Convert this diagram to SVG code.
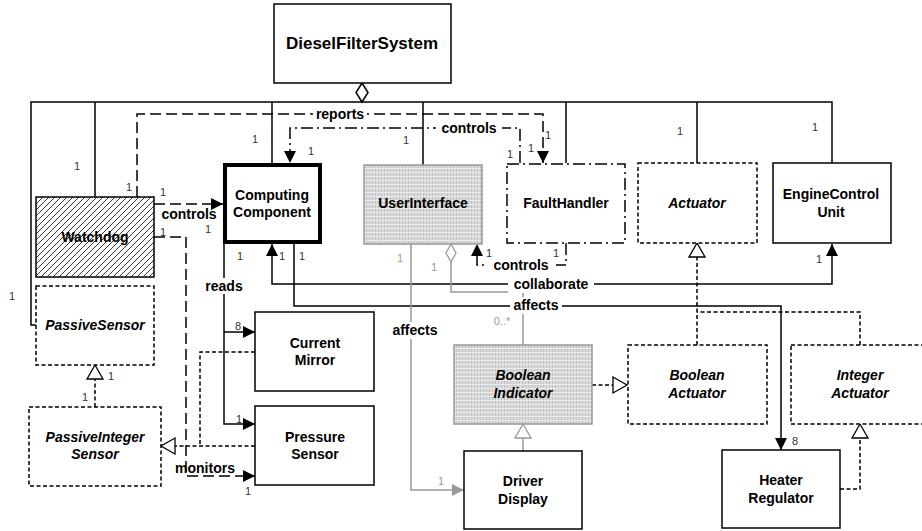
<svg xmlns="http://www.w3.org/2000/svg" width="922" height="531" viewBox="0 0 922 531">
<style>
text{font-family:"Liberation Sans",Arial,sans-serif;}
.n{font-size:14px;font-weight:bold;text-anchor:middle;fill:#000;}
.ni{font-size:14px;font-weight:bold;font-style:italic;text-anchor:middle;fill:#000;}
.lb{font-size:14px;font-weight:bold;text-anchor:middle;fill:#000;}
.m{font-size:11px;text-anchor:middle;fill:#333;}
.mg{font-size:11px;text-anchor:middle;fill:#999;}
.box{fill:#fff;stroke:#000;stroke-width:1.5;}
.dbox{fill:#fff;stroke:#000;stroke-width:1.5;stroke-dasharray:4,2.5;}
.gbox{fill:url(#grid);stroke:#999;stroke-width:1.5;}
.ln{fill:none;stroke:#000;stroke-width:1.5;}
.gl{fill:none;stroke:#999;stroke-width:1.5;}
.dl{fill:none;stroke:#000;stroke-width:1.5;stroke-dasharray:4,2.5;}
.ll{fill:none;stroke:#000;stroke-width:1.5;stroke-dasharray:11,5;}
.dd{fill:none;stroke:#000;stroke-width:1.5;stroke-dasharray:12,4,2,4;}
.bg{fill:#fff;}
</style>
<defs>
<pattern id="hatch" patternUnits="userSpaceOnUse" width="6" height="6">
<path d="M0,6 L6,0 M-1,1 L1,-1 M5,7 L7,5" stroke="#000" stroke-width="0.8"/>
</pattern>
<pattern id="grid" patternUnits="userSpaceOnUse" width="3" height="4">
<rect width="3" height="4" fill="#dadada"/>
<path d="M0.5,0 V4" stroke="#c2c2c2" stroke-width="1"/>
<path d="M0,0.5 H3" stroke="#ebebeb" stroke-width="1"/>
</pattern>
<marker id="a" markerUnits="userSpaceOnUse" markerWidth="13" markerHeight="13" refX="12" refY="6" orient="auto-start-reverse">
<path d="M0,0 L12,6 L0,12 z" fill="#000"/>
</marker>
<marker id="ag" markerUnits="userSpaceOnUse" markerWidth="13" markerHeight="13" refX="12" refY="6" orient="auto">
<path d="M0,0 L12,6 L0,12 z" fill="#999"/>
</marker>
<marker id="t" markerUnits="userSpaceOnUse" markerWidth="18" markerHeight="20" refX="15" refY="9" orient="auto">
<path d="M1,1 L15,9 L1,17 z" fill="#fff" stroke="#000" stroke-width="1.3"/>
</marker>
<marker id="tg" markerUnits="userSpaceOnUse" markerWidth="18" markerHeight="20" refX="15" refY="9" orient="auto">
<path d="M1,1 L15,9 L1,17 z" fill="#fff" stroke="#999" stroke-width="1.3"/>
</marker>
</defs>

<g id="connectors">
<path class="ln" d="M36,325 H31 V102 H832 V163"/>
<path class="ln" d="M95,102 V197 M272,102 V163 M423,102 V165 M566,102 V163 M697,102 V163"/>
<polygon points="362,83 368,92.5 362,102 356,92.5" fill="#fff" stroke="#000" stroke-width="1.5"/>
<path class="ll" d="M137,197 V114 H543 V163" marker-end="url(#a)"/>
<path class="dd" d="M520,163 V128 H290 V163" marker-end="url(#a)"/>
<path class="ll" d="M154,204 H223" marker-end="url(#a)"/>
<path class="ll" d="M154,237 H186 V476 H255" marker-end="url(#a)"/>
<path class="ln" d="M224,244 V424 H255" marker-end="url(#a)"/>
<path class="ln" d="M224,332 H255" marker-end="url(#a)"/>
<path class="ln" d="M272,244 V284 H832 V244" marker-start="url(#a)" marker-end="url(#a)"/>
<path class="ln" d="M294,244 V306 H781 V450" marker-end="url(#a)"/>
<path class="gl" d="M411,244 V490 H464" marker-end="url(#ag)"/>
<path class="gl" d="M451,262 V292 H523 V345"/>
<polygon points="451,244 456,253 451,262 446,253" fill="#fff" stroke="#999" stroke-width="1.3"/>
<path class="dd" d="M566,243 V265 H477 V244" marker-end="url(#a)"/>
<path class="dl" d="M697,345 V243" marker-end="url(#t)"/>
<path class="dl" d="M860,345 V312 H697"/>
<path class="dl" d="M592,385 H627" marker-end="url(#t)"/>
<path class="gl" d="M523,451 V424" marker-end="url(#tg)"/>
<path class="dl" d="M840,489 H860 V424" marker-end="url(#t)"/>
<path class="dl" d="M95,407 V365" marker-end="url(#t)"/>
<path class="dl" d="M255,352 H200 V446"/>
<path class="dl" d="M255,446 H161" marker-end="url(#t)"/>
<rect class="bg" x="313" y="106" width="54" height="16"/>
<rect class="bg" x="436" y="120" width="66" height="16"/>
<rect class="bg" x="204" y="278" width="40" height="16"/>
<rect class="bg" x="508" y="276" width="86" height="17"/>
<rect class="bg" x="510" y="297" width="52" height="17"/>
<rect class="bg" x="391" y="322" width="48" height="17"/>
<rect class="bg" x="486" y="258" width="70" height="15"/>
<text class="lb" x="340" y="119">reports</text>
<text class="lb" x="469" y="133">controls</text>
<text class="lb" x="189" y="219">controls</text>
<text class="lb" x="205" y="473">monitors</text>
<text class="lb" x="224" y="291">reads</text>
<text class="lb" x="551" y="289">collaborate</text>
<text class="lb" x="536" y="310">affects</text>
<text class="lb" x="415" y="335">affects</text>
<text class="lb" x="521" y="270">controls</text>
<text class="m" x="77" y="170">1</text>
<text class="m" x="129" y="191">1</text>
<text class="m" x="163" y="196">1</text>
<text class="m" x="208" y="233">1</text>
<text class="m" x="163" y="236">1</text>
<text class="m" x="255" y="143">1</text>
<text class="m" x="311" y="155">1</text>
<text class="m" x="406" y="144">1</text>
<text class="m" x="510" y="158">1</text>
<text class="m" x="531" y="152">1</text>
<text class="m" x="548" y="139">1</text>
<text class="m" x="680" y="135">1</text>
<text class="m" x="815" y="131">1</text>
<text class="m" x="12" y="300">1</text>
<text class="m" x="240" y="260">1</text>
<text class="m" x="282" y="260">1</text>
<text class="m" x="302" y="260">1</text>
<text class="m" x="238" y="330">8</text>
<text class="m" x="239" y="423">1</text>
<text class="m" x="248" y="495">1</text>
<text class="m" x="85" y="401">1</text>
<text class="m" x="111" y="380">1</text>
<text class="m" x="489" y="257">1</text>
<text class="m" x="556" y="257">1</text>
<text class="m" x="819" y="263">1</text>
<text class="m" x="795" y="445">8</text>
<text class="mg" x="400" y="262">1</text>
<text class="mg" x="434" y="271">1</text>
<text class="mg" x="441" y="485">1</text>
<text class="mg" x="502" y="325">0..*</text>
</g>

<g id="DieselFilterSystem">
<rect class="box" x="274" y="4" width="177" height="79"/>
<text class="n" x="362" y="49" style="font-size:17px">DieselFilterSystem</text>
</g>
<g id="Watchdog">
<rect x="36" y="197" width="118" height="80" fill="url(#hatch)" stroke="#000" stroke-width="1.5"/>
<text class="n" x="95" y="242">Watchdog</text>
</g>
<g id="ComputingComponent">
<rect x="225" y="165" width="95" height="77" fill="#fff" stroke="#000" stroke-width="4"/>
<text class="n" x="272" y="200">Computing</text>
<text class="n" x="272" y="217">Component</text>
</g>
<g id="UserInterface">
<rect class="gbox" x="364" y="165" width="118" height="79"/>
<text class="n" x="423" y="208">UserInterface</text>
</g>
<g id="FaultHandler">
<rect x="507" y="164" width="118" height="79" fill="#fff" stroke="#000" stroke-width="1.5" stroke-dasharray="12,4,2,4"/>
<text class="n" x="566" y="208">FaultHandler</text>
</g>
<g id="Actuator">
<rect class="dbox" x="638" y="163" width="119" height="80"/>
<text class="ni" x="697" y="208">Actuator</text>
</g>
<g id="EngineControlUnit">
<rect class="box" x="773" y="163" width="118" height="80"/>
<text class="n" x="831" y="199">EngineControl</text>
<text class="n" x="831" y="217">Unit</text>
</g>
<g id="PassiveSensor">
<rect class="dbox" x="36" y="286" width="118" height="79"/>
<text class="ni" x="95" y="330">PassiveSensor</text>
</g>
<g id="PassiveIntegerSensor">
<rect class="dbox" x="29" y="407" width="132" height="79"/>
<text class="ni" x="95" y="442">PassiveInteger</text>
<text class="ni" x="95" y="459">Sensor</text>
</g>
<g id="CurrentMirror">
<rect class="box" x="255" y="312" width="119" height="79"/>
<text class="n" x="315" y="348">Current</text>
<text class="n" x="315" y="365">Mirror</text>
</g>
<g id="PressureSensor">
<rect class="box" x="255" y="406" width="119" height="79"/>
<text class="n" x="315" y="442">Pressure</text>
<text class="n" x="315" y="459">Sensor</text>
</g>
<g id="BooleanIndicator">
<rect class="gbox" x="454" y="345" width="138" height="79"/>
<text class="ni" x="523" y="380">Boolean</text>
<text class="ni" x="523" y="398">Indicator</text>
</g>
<g id="DriverDisplay">
<rect class="box" x="464" y="451" width="118" height="78"/>
<text class="n" x="523" y="486">Driver</text>
<text class="n" x="523" y="504">Display</text>
</g>
<g id="BooleanActuator">
<rect class="dbox" x="628" y="345" width="139" height="79"/>
<text class="ni" x="697" y="380">Boolean</text>
<text class="ni" x="697" y="398">Actuator</text>
</g>
<g id="IntegerActuator">
<rect class="dbox" x="791" y="345" width="138" height="79"/>
<text class="ni" x="860" y="380">Integer</text>
<text class="ni" x="860" y="398">Actuator</text>
</g>
<g id="HeaterRegulator">
<rect class="box" x="722" y="450" width="118" height="78"/>
<text class="n" x="781" y="485">Heater</text>
<text class="n" x="781" y="503">Regulator</text>
</g>
</svg>
